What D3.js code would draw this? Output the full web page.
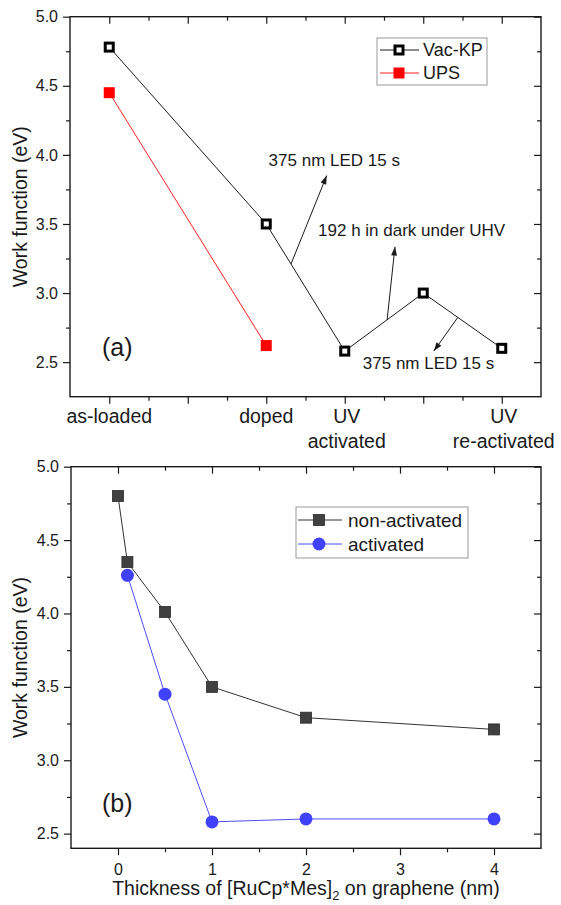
<!DOCTYPE html>
<html>
<head>
<meta charset="utf-8">
<script src="https://cdn.jsdelivr.net/npm/d3@7/dist/d3.min.js"></script>
<style>
  body { margin: 0; background: #fff; }
  svg { display: block; background: #fff; }
</style>
</head>
<body>
<svg id="chart" width="561" height="905"></svg>
<script>
// ---- Panel (a): work function along the doping / UV treatment sequence ----
const stagePos = [1, 3, 4, 5, 6];
const stageLabels = [["as-loaded"], ["doped"], ["UV", "activated"], [], ["UV", "re-activated"]];
const vacKP = [4.78, 3.50, 2.58, 3.00, 2.60];
const upsPos = [1, 3];
const ups = [4.45, 2.62];
const yTicksA = [2.5, 3.0, 3.5, 4.0, 4.5, 5.0];

// Arrow notes: segment index of the Vac-KP line, fraction along it, arrow tip and text start (data units)
const notes = [
  { text: "375 nm LED 15 s", seg: 1, t: 0.315, tip: [3.77, 3.85], at: [3.03, 3.965] },
  { text: "192 h in dark under UHV", seg: 2, t: 0.54, tip: [4.64, 3.335], at: [3.66, 3.455] },
  { text: "375 nm LED 15 s", seg: 3, t: 0.44, tip: [5.135, 2.58], at: [4.23, 2.49] }
];

// ---- Panel (b): work function vs. dimer thickness ----
const thickness = [0, 0.1, 0.5, 1, 2, 4];
const nonActivated = [4.80, 4.35, 4.01, 3.50, 3.29, 3.21];
const thicknessAct = [0.1, 0.5, 1, 2, 4];
const activated = [4.26, 3.45, 2.58, 2.60, 2.60];
const xTicksB = [0, 1, 2, 3, 4];
const yTicksB = [2.5, 3.0, 3.5, 4.0, 4.5, 5.0];

const FONT = '"Liberation Sans", Arial, Helvetica, sans-serif';
const INK = "#1a1a1a";
const svg = d3.select("#chart");
svg.append("rect").attr("width", 561).attr("height", 905).attr("fill", "#fff");

svg.append("defs").append("marker")
  .attr("id", "arrow").attr("viewBox", "0 0 10 8")
  .attr("markerUnits", "userSpaceOnUse")
  .attr("markerWidth", 10).attr("markerHeight", 7)
  .attr("refX", 10).attr("refY", 4).attr("orient", "auto")
  .append("path").attr("d", "M0,0.6 L10,4 L0,7.4 Z").attr("fill", INK);

function axisGroup(axis, tx, ty) {
  const a = svg.append("g").attr("transform", `translate(${tx},${ty})`).call(axis);
  a.select(".domain").remove();
  a.selectAll("line").attr("stroke", INK).attr("stroke-width", 1.2);
  a.selectAll("text").attr("font-size", 16).attr("font-family", FONT).attr("fill", INK);
  return a;
}

// Frame with outward ticks on bottom/left and inward mirror ticks on top/right
function frame(x, y, xMajor, xMinor, yMajor, yMinor, xFmt, yFmt) {
  const [xl, xr] = x.range();
  const [yb, yt] = y.range();
  // bottom
  axisGroup(d3.axisBottom(x).tickValues(xMinor).tickSize(4).tickSizeOuter(0).tickFormat(""), 0, yb);
  axisGroup(d3.axisBottom(x).tickValues(xMajor).tickSize(7).tickSizeOuter(0).tickPadding(8).tickFormat(xFmt), 0, yb);
  // top (inward)
  axisGroup(d3.axisBottom(x).tickValues(xMinor).tickSize(4).tickSizeOuter(0).tickFormat(""), 0, yt);
  axisGroup(d3.axisBottom(x).tickValues(xMajor).tickSize(7).tickSizeOuter(0).tickFormat(""), 0, yt);
  // left
  axisGroup(d3.axisLeft(y).tickValues(yMinor).tickSize(4).tickSizeOuter(0).tickFormat(""), xl, 0);
  axisGroup(d3.axisLeft(y).tickValues(yMajor).tickSize(7).tickSizeOuter(0).tickPadding(5).tickFormat(yFmt), xl, 0);
  // right (inward)
  axisGroup(d3.axisLeft(y).tickValues(yMinor).tickSize(4).tickSizeOuter(0).tickFormat(""), xr, 0);
  axisGroup(d3.axisLeft(y).tickValues(yMajor).tickSize(7).tickSizeOuter(0).tickFormat(""), xr, 0);
  svg.append("rect").attr("x", xl).attr("y", yt).attr("width", xr - xl).attr("height", yb - yt)
    .attr("fill", "none").attr("stroke", INK).attr("stroke-width", 1.4);
}

function yTitle(y) {
  const [yb, yt] = y.range();
  svg.append("text")
    .attr("transform", `translate(27,${(yb + yt) / 2}) rotate(-90)`)
    .attr("text-anchor", "middle").attr("font-family", FONT).attr("font-size", 19.5).attr("fill", INK)
    .text("Work function (eV)");
}

// =================== Panel (a) ===================
const xA = d3.scaleLinear().domain([0.5, 6.5]).range([70, 541]);
const yA = d3.scaleLinear().domain([2.25, 5.0]).range([396.7, 16.7]);

frame(xA, yA, d3.range(1, 7), [1.5, 2.5, 3.5, 4.5, 5.5], yTicksA, [2.75, 3.25, 3.75, 4.25, 4.75],
  () => "", d3.format(".1f"));

// stage labels under the axis
stageLabels.forEach((lines, i) => {
  const t = svg.append("text").attr("text-anchor", "middle").attr("font-family", FONT)
    .attr("font-size", 19.5).attr("fill", INK);
  lines.forEach((s, j) => {
    t.append("tspan").attr("x", xA(stagePos[i]) + (lines.length > 1 ? 2 : 0))
      .attr("y", yA.range()[0] + 26 + j * 25).text(s);
  });
});
yTitle(yA);

const lineA = d3.line().x(d => xA(d[0])).y(d => yA(d[1]));
const vacPts = stagePos.map((p, i) => [p, vacKP[i]]);
const upsPts = upsPos.map((p, i) => [p, ups[i]]);

svg.append("path").attr("d", lineA(upsPts)).attr("fill", "none").attr("stroke", "#ff2020").attr("stroke-width", 1);
svg.append("path").attr("d", lineA(vacPts)).attr("fill", "none").attr("stroke", INK).attr("stroke-width", 1);

// arrow notes
notes.forEach(n => {
  const a = vacPts[n.seg], b = vacPts[n.seg + 1];
  const sx = a[0] + (b[0] - a[0]) * n.t, sy = a[1] + (b[1] - a[1]) * n.t;
  svg.append("line")
    .attr("x1", xA(sx)).attr("y1", yA(sy)).attr("x2", xA(n.tip[0])).attr("y2", yA(n.tip[1]))
    .attr("stroke", INK).attr("stroke-width", 1).attr("marker-end", "url(#arrow)");
  svg.append("text").attr("x", xA(n.at[0])).attr("y", yA(n.at[1])).attr("dy", "0.35em")
    .attr("font-family", FONT).attr("font-size", 17).attr("fill", INK).text(n.text);
});

svg.selectAll(".ups").data(upsPts).enter().append("rect")
  .attr("x", d => xA(d[0]) - 5.5).attr("y", d => yA(d[1]) - 5.5)
  .attr("width", 11).attr("height", 11).attr("fill", "#ff0000");
svg.selectAll(".vac").data(vacPts).enter().append("rect")
  .attr("x", d => xA(d[0]) - 4).attr("y", d => yA(d[1]) - 4)
  .attr("width", 8).attr("height", 8).attr("fill", "#fff").attr("stroke", "#000").attr("stroke-width", 3);

svg.append("text").attr("x", 102).attr("y", 356).attr("font-family", FONT).attr("font-size", 25)
  .attr("fill", INK).text("(a)");

// legend (a)
const legA = svg.append("g").attr("transform", "translate(377,38)");
legA.append("rect").attr("width", 110).attr("height", 47).attr("fill", "#fff").attr("stroke", "#999").attr("stroke-width", 1);
[["Vac-KP", INK, "open"], ["UPS", "#ff2020", "red"]].forEach((r, i) => {
  const cy = 12 + i * 23;
  legA.append("line").attr("x1", 3).attr("x2", 42).attr("y1", cy).attr("y2", cy).attr("stroke", r[1]).attr("stroke-width", 1);
  if (r[2] === "open") {
    legA.append("rect").attr("x", 22 - 4).attr("y", cy - 4).attr("width", 8).attr("height", 8)
      .attr("fill", "#fff").attr("stroke", "#000").attr("stroke-width", 3);
  } else {
    legA.append("rect").attr("x", 22 - 5.5).attr("y", cy - 5.5).attr("width", 11).attr("height", 11).attr("fill", "#ff0000");
  }
  legA.append("text").attr("x", 46).attr("y", cy).attr("dy", "0.36em").attr("font-family", FONT)
    .attr("font-size", 18).attr("fill", INK).text(r[0]);
});

// =================== Panel (b) ===================
const xB = d3.scaleLinear().domain([-0.5, 4.5]).range([71, 541]);
const yB = d3.scaleLinear().domain([2.4, 5.0]).range([848.3, 466.7]);

frame(xB, yB, xTicksB, [0.5, 1.5, 2.5, 3.5], yTicksB, [2.75, 3.25, 3.75, 4.25, 4.75],
  d3.format("d"), d3.format(".1f"));
yTitle(yB);

const xTitle = svg.append("text").attr("x", 306).attr("y", 895).attr("text-anchor", "middle")
  .attr("font-family", FONT).attr("font-size", 19.5).attr("fill", INK);
xTitle.append("tspan").text("Thickness of [RuCp*Mes]");
xTitle.append("tspan").attr("font-size", 13).attr("dy", 5).text("2");
xTitle.append("tspan").attr("dy", -5).text(" on graphene (nm)");

const lineB = d3.line().x(d => xB(d[0])).y(d => yB(d[1]));
const nonPts = thickness.map((t, i) => [t, nonActivated[i]]);
const actPts = thicknessAct.map((t, i) => [t, activated[i]]);

svg.append("path").attr("d", lineB(nonPts)).attr("fill", "none").attr("stroke", "#333").attr("stroke-width", 1);
svg.selectAll(".non").data(nonPts).enter().append("rect")
  .attr("x", d => xB(d[0]) - 5.5).attr("y", d => yB(d[1]) - 5.5).attr("width", 11).attr("height", 11)
  .attr("fill", "#404040").attr("stroke", "#2a2a2a").attr("stroke-width", 0.8);
svg.append("path").attr("d", lineB(actPts)).attr("fill", "none").attr("stroke", "#4d4dff").attr("stroke-width", 1);
svg.selectAll(".act").data(actPts).enter().append("circle")
  .attr("cx", d => xB(d[0])).attr("cy", d => yB(d[1])).attr("r", 6.5).attr("fill", "#4040ff");

svg.append("text").attr("x", 102).attr("y", 812).attr("font-family", FONT).attr("font-size", 25)
  .attr("fill", INK).text("(b)");

// legend (b)
const legB = svg.append("g").attr("transform", "translate(296,507)");
legB.append("rect").attr("width", 172).attr("height", 51).attr("fill", "#fff").attr("stroke", "#999").attr("stroke-width", 1);
[["non-activated", "#333", "sq"], ["activated", "#4d4dff", "ci"]].forEach((r, i) => {
  const cy = 13 + i * 24;
  legB.append("line").attr("x1", 2).attr("x2", 46).attr("y1", cy).attr("y2", cy).attr("stroke", r[1]).attr("stroke-width", 1);
  if (r[2] === "sq") {
    legB.append("rect").attr("x", 23 - 5.5).attr("y", cy - 5.5).attr("width", 11).attr("height", 11)
      .attr("fill", "#404040").attr("stroke", "#2a2a2a").attr("stroke-width", 0.8);
  } else {
    legB.append("circle").attr("cx", 23).attr("cy", cy).attr("r", 6.5).attr("fill", "#4040ff");
  }
  legB.append("text").attr("x", 52).attr("y", cy).attr("dy", "0.36em").attr("font-family", FONT)
    .attr("font-size", 19).attr("fill", INK).text(r[0]);
});
</script>
</body>
</html>
